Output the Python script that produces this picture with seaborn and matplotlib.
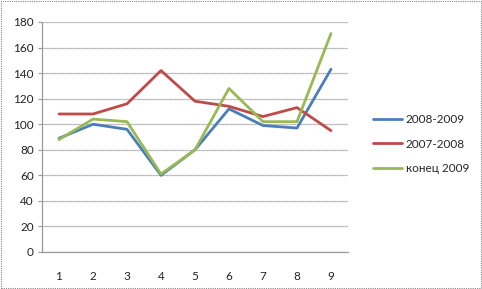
import matplotlib
matplotlib.use("Agg")
import matplotlib.pyplot as plt
import seaborn as sns
import pandas as pd
from matplotlib.patches import Rectangle
from matplotlib.ticker import MultipleLocator, FixedLocator

categories = [1, 2, 3, 4, 5, 6, 7, 8, 9]
s_2008_2009 = [89, 100, 96, 60, 80, 112, 99, 97, 143]
s_2007_2008 = [108, 108, 116, 142, 118, 114, 106, 113, 95]
s_end_2009 = [88, 104, 102, 61, 80, 128, 102, 102, 171]
series_names = ["2008-2009", "2007-2008", "конец 2009"]
colors = ["#4A7EBB", "#BE4B48", "#98B954"]

df = pd.concat([
    pd.DataFrame({"x": categories, "y": vals, "series": name})
    for name, vals in zip(series_names, [s_2008_2009, s_2007_2008, s_end_2009])
])

sns.set_style("white")
plt.rcParams["font.family"] = ["Lato", "DejaVu Sans"]

fs = 8.5
fig = plt.figure(figsize=(4.82, 2.89), dpi=100)
ax = fig.add_axes([42 / 482, 1 - 252 / 289, (348 - 42) / 482, (252 - 22) / 289])

sns.lineplot(data=df, x="x", y="y", hue="series", palette=colors,
             hue_order=series_names, linewidth=2.0, ax=ax, legend=True)

ax.set_xlim(0.5, 9.5)
ax.set_ylim(0, 180)
ax.yaxis.set_major_locator(MultipleLocator(20))
ax.set_xticks(categories)
ax.xaxis.set_minor_locator(FixedLocator([c + 0.5 for c in [0] + categories]))
ax.tick_params(axis="x", which="major", length=0, pad=14, labelsize=fs, colors="#222222")
ax.tick_params(axis="x", which="minor", length=3.5, color="#999999", direction="out")
ax.tick_params(axis="y", which="major", length=3, color="#999999", labelsize=fs,
               colors="#222222", pad=3, left=True)
ax.grid(axis="y", color="#9a9a9a", linewidth=0.9, linestyle=(0, (1, 0.6)))
ax.set_axisbelow(True)
for side in ["top", "right"]:
    ax.spines[side].set_visible(False)
for side in ["left", "bottom"]:
    ax.spines[side].set_color("#9a9a9a")
    ax.spines[side].set_linewidth(0.9)
ax.set_xlabel("")
ax.set_ylabel("")

leg = ax.legend(loc="center left", bbox_to_anchor=(362 / 482, 1 - 144 / 289),
                bbox_transform=fig.transFigure, frameon=False, fontsize=fs,
                handlelength=2.5, handletextpad=0.3, labelspacing=1.15)
for line in leg.get_lines():
    line.set_linewidth(2.0)

fig.patches.append(Rectangle((0.002, 0.003), 0.996, 0.994, transform=fig.transFigure,
                             fill=False, edgecolor="#888888", linewidth=0.8,
                             linestyle=(0, (1, 1))))

fig.savefig("out.png", dpi=100)
